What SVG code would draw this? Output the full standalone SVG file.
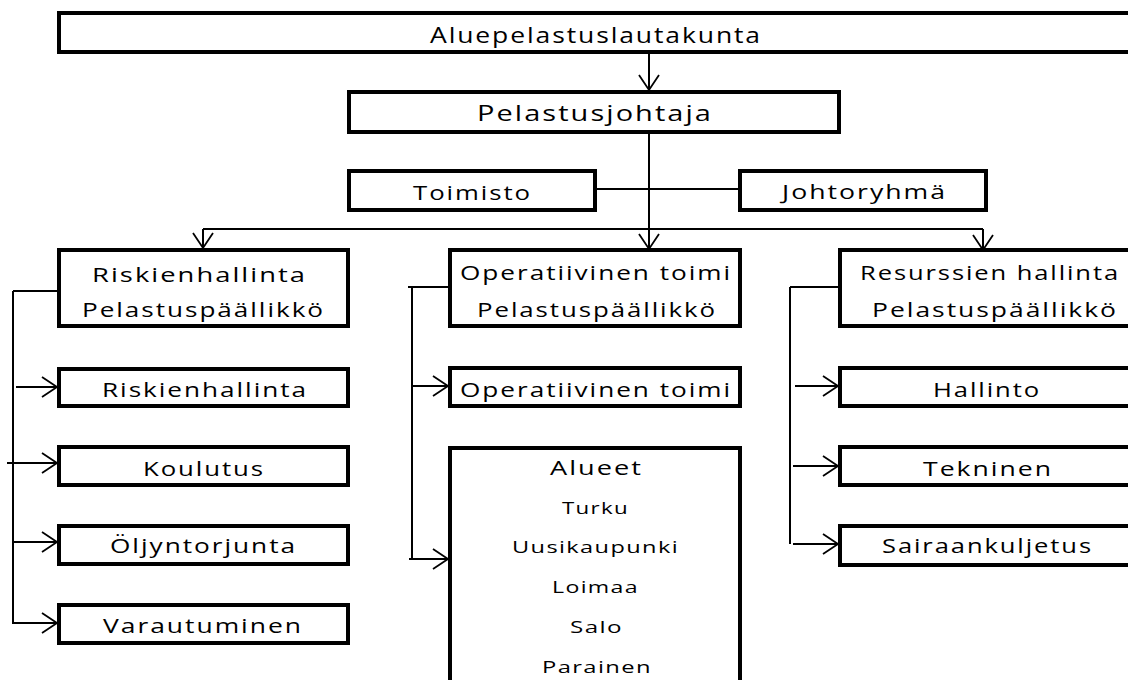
<svg xmlns="http://www.w3.org/2000/svg" width="1128" height="680" viewBox="0 0 1128 680">
  <style>
    .box { fill: #fff; stroke: #000; stroke-width: 4; }
    .lbl { font-family: "Open Sans", "Noto Sans", "DejaVu Sans", sans-serif; font-size: 20px; letter-spacing: 1.5px; fill: #000; text-anchor: middle; }
    .big { font-size: 21px; }
    .small { font-size: 17px; letter-spacing: 1px; }
    .wire { fill: none; stroke: #000; stroke-width: 2; }
    .arrow { fill: none; stroke: #000; stroke-width: 2; marker-end: url(#head); }
  </style>
  <defs>
    <marker id="head" markerUnits="userSpaceOnUse" markerWidth="40" markerHeight="40" refX="0" refY="0" orient="auto" overflow="visible" viewBox="-20 -20 40 40">
      <path d="M-15,-10 L0,0 L-15,10" fill="none" stroke="#000" stroke-width="1.8"/>
    </marker>
  </defs>

  <!-- connectors -->
  <g id="connectors">
    <path class="arrow" d="M649,52 V90"/>
    <path class="wire" d="M649,132 V229"/>
    <path class="arrow" d="M649,229 V249"/>
    <path class="wire" d="M597,189 H738" stroke-width="1.6"/>
    <path class="wire" d="M203,229 H983" stroke-width="1.6"/>
    <path class="arrow" d="M203,229 V248"/>
    <path class="arrow" d="M983,229 V250"/>

    <!-- left branch -->
    <path class="wire" d="M13,291 H66"/>
    <path class="wire" d="M13,291 V623"/>
    <path class="arrow" d="M16,387 H57"/>
    <path class="arrow" d="M7,463 H57"/>
    <path class="arrow" d="M12,542 H57"/>
    <path class="arrow" d="M12,623 H57"/>

    <!-- middle branch -->
    <path class="wire" d="M408,287 H448"/>
    <path class="wire" d="M412,287 V559"/>
    <path class="arrow" d="M413,386 H448"/>
    <path class="arrow" d="M409,559 H448"/>

    <!-- right branch -->
    <path class="wire" d="M790,287 H838"/>
    <path class="wire" d="M790,287 V544"/>
    <path class="arrow" d="M795,386 H838"/>
    <path class="arrow" d="M793,466 H838"/>
    <path class="arrow" d="M793,544 H838"/>
  </g>

  <g id="lautakunta">
    <rect class="box" x="59" y="13" width="1080" height="39"/>
    <text class="lbl big" x="596" y="43" textLength="332" lengthAdjust="spacingAndGlyphs">Aluepelastuslautakunta</text>
  </g>
  <g id="johtaja">
    <rect class="box" x="349" y="92" width="490" height="40"/>
    <text class="lbl big" x="595" y="121" textLength="236" lengthAdjust="spacingAndGlyphs">Pelastusjohtaja</text>
  </g>
  <g id="toimisto">
    <rect class="box" x="349" y="171" width="246" height="39"/>
    <text class="lbl" x="472.5" y="200" textLength="119" lengthAdjust="spacingAndGlyphs">Toimisto</text>
  </g>
  <g id="johtoryhma">
    <rect class="box" x="740" y="171" width="246" height="39"/>
    <text class="lbl" x="864.5" y="199" textLength="165" lengthAdjust="spacingAndGlyphs">Johtoryhmä</text>
  </g>

  <g id="riskienhallinta-pp">
    <rect class="box" x="59" y="250" width="289" height="76"/>
    <text class="lbl" x="199.5" y="282" textLength="215" lengthAdjust="spacingAndGlyphs">Riskienhallinta</text>
    <text class="lbl" x="203.5" y="317" textLength="243" lengthAdjust="spacingAndGlyphs">Pelastuspäällikkö</text>
  </g>
  <g id="operatiivinen-pp">
    <rect class="box" x="450" y="250" width="290" height="76"/>
    <text class="lbl" x="596" y="280" textLength="272" lengthAdjust="spacingAndGlyphs">Operatiivinen toimi</text>
    <text class="lbl" x="597" y="317" textLength="240" lengthAdjust="spacingAndGlyphs">Pelastuspäällikkö</text>
  </g>
  <g id="resurssit-pp">
    <rect class="box" x="840" y="250" width="300" height="76"/>
    <text class="lbl" x="990" y="280" textLength="260" lengthAdjust="spacingAndGlyphs">Resurssien hallinta</text>
    <text class="lbl" x="995" y="317" textLength="246" lengthAdjust="spacingAndGlyphs">Pelastuspäällikkö</text>
  </g>

  <g id="riskienhallinta">
    <rect class="box" x="59" y="369" width="289" height="37"/>
    <text class="lbl" x="205" y="397" textLength="206" lengthAdjust="spacingAndGlyphs">Riskienhallinta</text>
  </g>
  <g id="koulutus">
    <rect class="box" x="59" y="447" width="289" height="38"/>
    <text class="lbl" x="204" y="476" textLength="122" lengthAdjust="spacingAndGlyphs">Koulutus</text>
  </g>
  <g id="oljyntorjunta">
    <rect class="box" x="59" y="526" width="289" height="38"/>
    <text class="lbl" x="203.5" y="553" textLength="187" lengthAdjust="spacingAndGlyphs">Öljyntorjunta</text>
  </g>
  <g id="varautuminen">
    <rect class="box" x="59" y="605" width="289" height="38"/>
    <text class="lbl" x="203" y="633" textLength="200" lengthAdjust="spacingAndGlyphs">Varautuminen</text>
  </g>

  <g id="operatiivinen">
    <rect class="box" x="450" y="368" width="290" height="38"/>
    <text class="lbl" x="596" y="397" textLength="272" lengthAdjust="spacingAndGlyphs">Operatiivinen toimi</text>
  </g>
  <g id="alueet">
    <rect class="box" x="450" y="448" width="290" height="250"/>
    <text class="lbl" x="596.5" y="475" textLength="93" lengthAdjust="spacingAndGlyphs">Alueet</text>
    <text class="lbl small" x="595.5" y="514" textLength="67" lengthAdjust="spacingAndGlyphs">Turku</text>
    <text class="lbl small" x="595.5" y="553" textLength="167" lengthAdjust="spacingAndGlyphs">Uusikaupunki</text>
    <text class="lbl small" x="595.5" y="593" textLength="87" lengthAdjust="spacingAndGlyphs">Loimaa</text>
    <text class="lbl small" x="596.5" y="633" textLength="53" lengthAdjust="spacingAndGlyphs">Salo</text>
    <text class="lbl small" x="597" y="673" textLength="110" lengthAdjust="spacingAndGlyphs">Parainen</text>
  </g>

  <g id="hallinto">
    <rect class="box" x="840" y="368" width="300" height="38"/>
    <text class="lbl" x="987" y="397" textLength="108" lengthAdjust="spacingAndGlyphs">Hallinto</text>
  </g>
  <g id="tekninen">
    <rect class="box" x="840" y="447" width="300" height="38"/>
    <text class="lbl" x="988" y="476" textLength="130" lengthAdjust="spacingAndGlyphs">Tekninen</text>
  </g>
  <g id="sairaankuljetus">
    <rect class="box" x="840" y="526" width="300" height="39"/>
    <text class="lbl" x="987.5" y="553" textLength="211" lengthAdjust="spacingAndGlyphs">Sairaankuljetus</text>
  </g>
</svg>
